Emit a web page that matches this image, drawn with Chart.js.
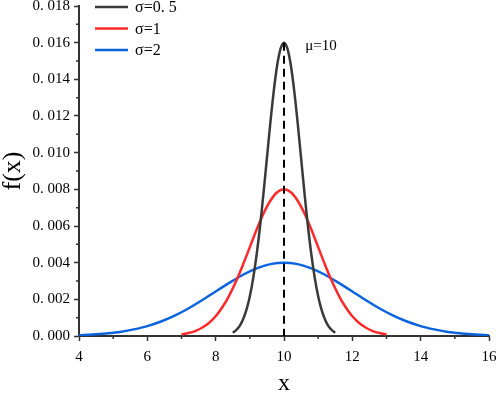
<!DOCTYPE html>
<html>
<head>
<meta charset="utf-8">
<script src="https://cdn.jsdelivr.net/npm/chart.js@4"></script>
<style>
  html, body { margin: 0; padding: 0; background: #fff; }
  #wrap { width: 498px; height: 393px; }
</style>
</head>
<body>
<div id="wrap"><canvas id="pdf"></canvas></div>
<script>
// values
const xHalf = [8.5, 8.6, 8.7, 8.8, 8.9, 9.0, 9.1, 9.2, 9.3, 9.4, 9.5, 9.6, 9.7, 9.8, 9.9, 10.0,
               10.1, 10.2, 10.3, 10.4, 10.5, 10.6, 10.7, 10.8, 10.9, 11.0, 11.1, 11.2, 11.3, 11.4, 11.5];
const yHalf = [0.00018, 0.00032, 0.00054, 0.00090, 0.00142, 0.00217, 0.00317, 0.00445, 0.00600, 0.00779, 0.00970,
               0.01162, 0.01336, 0.01477, 0.01568, 0.01600, 0.01568, 0.01477, 0.01336, 0.01162, 0.00970,
               0.00779, 0.00600, 0.00445, 0.00317, 0.00217, 0.00142, 0.00090, 0.00054, 0.00032, 0.00018];

const xOne = [7.0, 7.2, 7.4, 7.6, 7.8, 8.0, 8.2, 8.4, 8.6, 8.8, 9.0, 9.2, 9.4, 9.6, 9.8, 10.0,
              10.2, 10.4, 10.6, 10.8, 11.0, 11.2, 11.4, 11.6, 11.8, 12.0, 12.2, 12.4, 12.6, 12.8, 13.0];
const yOne = [0.00009, 0.00016, 0.00027, 0.00045, 0.00071, 0.00108, 0.00158, 0.00222, 0.00300, 0.00389, 0.00485,
              0.00581, 0.00668, 0.00738, 0.00784, 0.00800, 0.00784, 0.00738, 0.00668, 0.00581, 0.00485,
              0.00389, 0.00300, 0.00222, 0.00158, 0.00108, 0.00071, 0.00045, 0.00027, 0.00016, 0.00009];

const xTwo = [4.0, 4.4, 4.8, 5.2, 5.6, 6.0, 6.4, 6.8, 7.2, 7.6, 8.0, 8.4, 8.8, 9.2, 9.6, 10.0,
              10.4, 10.8, 11.2, 11.6, 12.0, 12.4, 12.8, 13.2, 13.6, 14.0, 14.4, 14.8, 15.2, 15.6, 16.0];
const yTwo = [0.00004, 0.00008, 0.00014, 0.00022, 0.00036, 0.00054, 0.00079, 0.00111, 0.00150, 0.00195, 0.00243,
              0.00290, 0.00334, 0.00369, 0.00392, 0.00400, 0.00392, 0.00369, 0.00334, 0.00290, 0.00243,
              0.00195, 0.00150, 0.00111, 0.00079, 0.00054, 0.00036, 0.00022, 0.00014, 0.00008, 0.00004];

const seriesLabels = ["σ=0. 5", "σ=1", "σ=2"];
const mu = 10;
const muPeak = 0.016;

const serif = "'Liberation Serif', 'DejaVu Serif', serif";
const axisColor = "#333";

function toPoints(xs, ys) {
    return xs.map((x, i) => ({x: x, y: ys[i]}));
}

// short ticks between the labelled ones
const minorTicks = {
    id: "minorTicks",
    afterDraw(chart) {
        const ctx = chart.ctx;
        const xs = chart.scales.x;
        const ys = chart.scales.y;
        ctx.save();
        ctx.strokeStyle = axisColor;
        ctx.lineWidth = 1.5;
        ctx.beginPath();
        for (let v = 5; v < 16; v += 2) {
            const px = xs.getPixelForValue(v);
            ctx.moveTo(px, ys.bottom);
            ctx.lineTo(px, ys.bottom + 3);
        }
        for (let i = 0; i < 9; i++) {
            const py = ys.getPixelForValue(0.001 + i * 0.002);
            ctx.moveTo(xs.left, py);
            ctx.lineTo(xs.left - 3, py);
        }
        ctx.stroke();
        ctx.restore();
    }
};

// dashed mean line, mu label and legend in the top left corner
const extras = {
    id: "extras",
    afterDatasetsDraw(chart) {
        const ctx = chart.ctx;
        const xs = chart.scales.x;
        const ys = chart.scales.y;
        ctx.save();

        ctx.strokeStyle = "#000";
        ctx.lineWidth = 2;
        ctx.setLineDash([8, 5]);
        ctx.beginPath();
        ctx.moveTo(xs.getPixelForValue(mu), ys.getPixelForValue(muPeak));
        ctx.lineTo(xs.getPixelForValue(mu), ys.getPixelForValue(0));
        ctx.stroke();
        ctx.setLineDash([]);

        ctx.fillStyle = "#000";
        ctx.font = "15px " + serif;
        ctx.textBaseline = "middle";
        ctx.textAlign = "left";
        ctx.fillText("μ=10", xs.getPixelForValue(10.62), ys.getPixelForValue(0.0158));

        ctx.font = "16px " + serif;
        chart.data.datasets.forEach((ds, i) => {
            const y = 7 + i * 21.5;
            ctx.strokeStyle = ds.borderColor;
            ctx.lineWidth = 2.5;
            ctx.beginPath();
            ctx.moveTo(95, y);
            ctx.lineTo(128, y);
            ctx.stroke();
            ctx.fillStyle = "#000";
            ctx.fillText(ds.label, 135, y + 1);
        });
        ctx.restore();
    }
};

new Chart(document.getElementById("pdf"), {
    type: "line",
    data: {
        datasets: [
            { label: seriesLabels[0], data: toPoints(xHalf, yHalf), borderColor: "#3a3a3a" },
            { label: seriesLabels[1], data: toPoints(xOne, yOne), borderColor: "#ff2a2a" },
            { label: seriesLabels[2], data: toPoints(xTwo, yTwo), borderColor: "#0b63de" }
        ]
    },
    options: {
        responsive: true,
        maintainAspectRatio: false,
        animation: false,
        datasets: {
            line: { borderWidth: 2.5, pointRadius: 0, tension: 0.3, fill: false }
        },
        layout: { padding: { top: 6, right: 9, left: 0, bottom: 0 } },
        plugins: {
            legend: { display: false },
            tooltip: { enabled: false }
        },
        scales: {
            x: {
                type: "linear",
                min: 4,
                max: 16,
                afterFit: (s) => { s.height = 57; s.paddingLeft = 0; s.paddingRight = 0; },
                border: { display: true, color: axisColor, width: 2 },
                grid: { drawOnChartArea: false, drawTicks: true, tickLength: 5, tickColor: axisColor, tickWidth: 1.5 },
                ticks: { stepSize: 2, color: "#000", padding: 7, font: { family: serif, size: 15 } },
                title: { display: true, text: "x", color: "#000", padding: { top: 8, bottom: 0 }, font: { family: serif, size: 24, lineHeight: 0.8 } }
            },
            y: {
                min: 0,
                max: 0.018,
                afterFit: (s) => { s.width = 79; s.paddingTop = 0; s.paddingBottom = 0; },
                border: { display: true, color: axisColor, width: 2 },
                grid: { drawOnChartArea: false, drawTicks: true, tickLength: 5, tickColor: axisColor, tickWidth: 1.5 },
                ticks: {
                    stepSize: 0.002,
                    color: "#000",
                    padding: 4,
                    font: { family: serif, size: 15 },
                    callback: (v) => v.toFixed(3).replace(".", ". ")
                },
                title: { display: true, text: "f(x)", color: "#000", padding: { top: 0, bottom: 0 }, font: { family: serif, size: 26, lineHeight: 1.0 } }
            }
        }
    },
    plugins: [minorTicks, extras]
});
</script>
</body>
</html>
